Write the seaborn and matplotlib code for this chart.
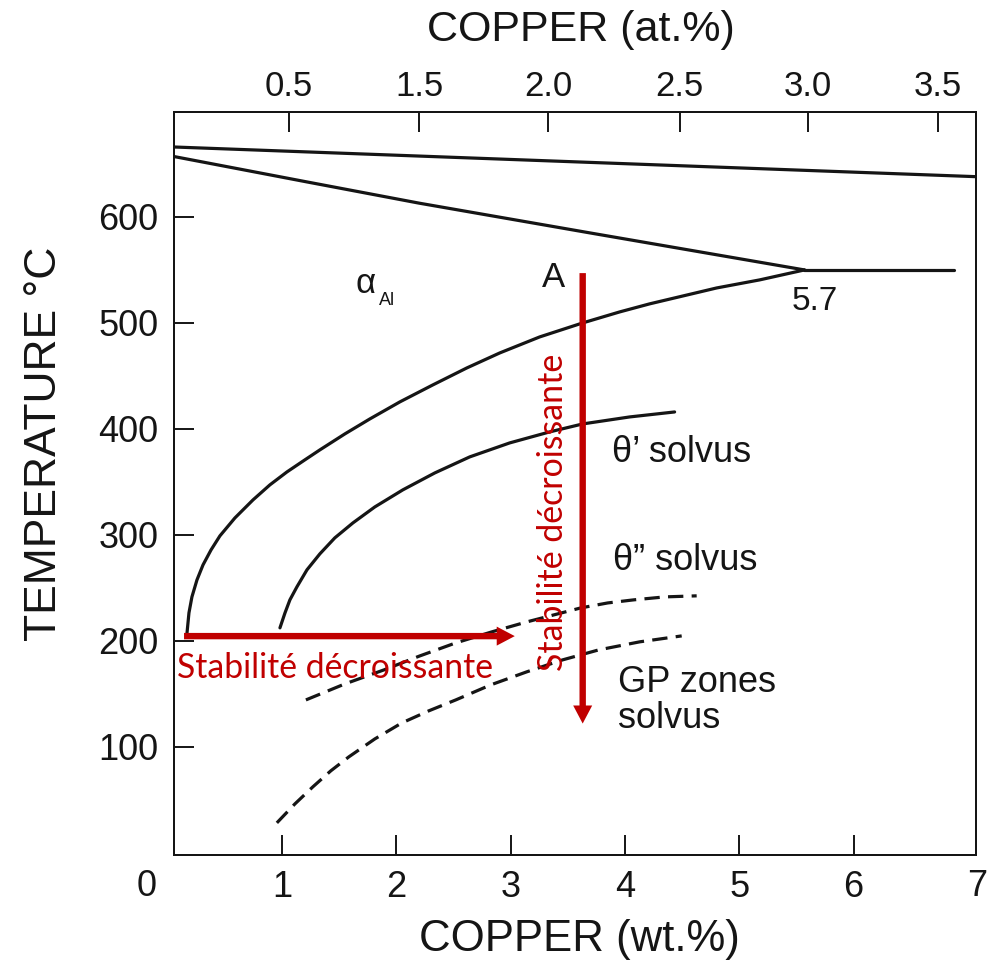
import matplotlib
matplotlib.use("Agg")
import matplotlib.pyplot as plt
import seaborn as sns

# ---- Al-Cu phase boundaries (Cu in wt.%, temperature in °C) ----
liquidus_wt = [0.055, 7.07]
liquidus_t = [666, 638]

solidus_wt = [0.055, 1.22, 2.20, 3.69, 5.57]
solidus_t = [657, 633, 613, 585, 550]

eutectic_wt = [5.57, 6.88]
eutectic_t = [550, 550]

alpha_solvus_wt = [0.169, 0.186, 0.212, 0.256, 0.309, 0.379, 0.457, 0.588,
                   0.746, 0.894, 1.043, 1.200, 1.331, 1.550, 1.768, 2.031,
                   2.319, 2.616, 2.905, 3.254, 3.630, 3.954, 4.216, 4.802,
                   5.178, 5.570]
alpha_solvus_t = [207.5, 226.4, 241.5, 257.5, 271.7, 285.8, 299.1, 316.0,
                  333.0, 347.2, 359.4, 370.8, 380.2, 395.3, 409.4, 425.5,
                  441.5, 457.5, 471.7, 486.8, 500.0, 510.4, 518.0, 533.0,
                  540.6, 550.0]

theta_p_wt = [0.982, 1.026, 1.069, 1.130, 1.218, 1.331, 1.462, 1.620, 1.812,
              2.057, 2.337, 2.642, 2.992, 3.342, 3.630, 4.041, 4.434]
theta_p_t = [212.3, 226.4, 238.7, 250.9, 267.0, 282.1, 297.2, 311.3, 326.4,
             342.5, 358.5, 373.6, 386.8, 397.2, 404.7, 411.3, 416.0]

theta_pp_wt = [1.209, 1.550, 1.891, 2.205, 2.520, 2.835, 3.141, 3.377, 3.613,
               3.849, 4.076, 4.347, 4.627]
theta_pp_t = [144.3, 159.4, 172.6, 185.8, 198.1, 208.5, 217.9, 224.5, 231.1,
              235.8, 238.7, 241.5, 242.5]

gp_wt = [0.955, 1.113, 1.270, 1.427, 1.585, 1.812, 2.048, 2.284, 2.520,
         2.826, 3.141, 3.455, 3.770, 4.129, 4.496]
gp_t = [28.3, 46.2, 62.3, 77.4, 90.6, 107.5, 122.6, 134.0, 144.3, 158.5,
        170.8, 182.1, 191.5, 199.1, 204.7]

# ---- axes ticks ----
wt_ticks = [1, 2, 3, 4, 5, 6]
temp_ticks = [100, 200, 300, 400, 500, 600]
at_tick_wt = [1.06, 2.20, 3.33, 4.48, 5.60, 6.74]
at_tick_labels = ["0.5", "1.5", "2.0", "2.5", "3.0", "3.5"]

# ---- arrows: (start wt, start T) -> (end wt, end T) ----
arrow_h = ((0.143, 204.5), (3.036, 204.5))
arrow_v = ((3.63, 547), (3.63, 122))

sns.set_style("ticks")
plt.rcParams["font.family"] = ["Liberation Sans", "DejaVu Sans"]

RED = "#C00000"
INK = "#151515"
TICK_FS = 26

fig = plt.figure(figsize=(9.97, 9.64), dpi=100)
ax = fig.add_axes([0.1745, 0.1131, 0.8044, 0.7707])

solid_kw = dict(color=INK, linewidth=2.3, estimator=None, sort=False, ax=ax)
sns.lineplot(x=liquidus_wt, y=liquidus_t, **solid_kw)
sns.lineplot(x=solidus_wt, y=solidus_t, **solid_kw)
sns.lineplot(x=eutectic_wt, y=eutectic_t, **solid_kw)
sns.lineplot(x=alpha_solvus_wt, y=alpha_solvus_t, **solid_kw)
sns.lineplot(x=theta_p_wt, y=theta_p_t, **solid_kw)
for xs, ys in ((theta_pp_wt, theta_pp_t), (gp_wt, gp_t)):
    sns.lineplot(x=xs, y=ys, **solid_kw)
    ax.lines[-1].set_dashes((4.8, 2.6))

ax.set_xlim(0.055, 7.07)
ax.set_ylim(-2, 699)

for sp in ax.spines.values():
    sp.set_linewidth(1.4)
    sp.set_color(INK)

ax.set_xticks(wt_ticks)
ax.set_xticklabels([str(v) for v in wt_ticks])
ax.set_yticks(temp_ticks)
ax.set_yticklabels([str(v) for v in temp_ticks])
ax.tick_params(direction="in", length=14.5, width=1.4, colors=INK,
               labelsize=TICK_FS)
ax.tick_params(axis="x", pad=10.5)
ax.tick_params(axis="y", pad=11)

# corner labels of the wt.% scale
xlab_y = -0.043
ax.text(-0.18, xlab_y, "0", transform=ax.get_xaxis_transform(),
        ha="center", va="center", fontsize=TICK_FS, color=INK)
ax.text(7.08, xlab_y, "7", transform=ax.get_xaxis_transform(),
        ha="center", va="center", fontsize=TICK_FS, color=INK)

# at.% scale along the top
top = ax.twiny()
top.set_xlim(ax.get_xlim())
top.set_xticks(at_tick_wt)
top.set_xticklabels(at_tick_labels)
top.tick_params(direction="in", length=14.5, width=1.4, colors=INK,
                labelsize=TICK_FS - 1, pad=6.5)
for sp in top.spines.values():
    sp.set_linewidth(1.4)
    sp.set_color(INK)

# axis titles
fig.text(581 / 997, 1 - 30 / 964, "COPPER (at.%)", ha="center", va="center",
         fontsize=31, color=INK)
fig.text(579 / 997, 1 - 940 / 964, "COPPER (wt.%)", ha="center", va="center",
         fontsize=31.5, color=INK)
fig.text(45 / 997, 1 - 444 / 964, "TEMPERATURE °C", ha="center", va="center",
         rotation=90, fontsize=32, color=INK)

# region and curve labels
ax.text(1.733, 528, "α", fontsize=25, color=INK, ha="center", va="baseline")
ax.text(1.92, 517, "Al", fontsize=13, color=INK, ha="center", va="baseline")
ax.text(3.377, 534, "A", fontsize=25, color=INK, ha="center", va="baseline")
ax.text(5.66, 512, "5.7", fontsize=24, color=INK, ha="center", va="baseline")
ax.text(3.886, 369, "θ’ solvus", fontsize=26, color=INK, ha="left",
        va="baseline")
ax.text(3.895, 267, "θ” solvus", fontsize=26, color=INK, ha="left",
        va="baseline")
ax.text(3.94, 152, "GP zones", fontsize=26, color=INK, ha="left",
        va="baseline")
ax.text(3.94, 118, "solvus", fontsize=26, color=INK, ha="left",
        va="baseline")

# red arrows
arrow_kw = dict(arrowprops=dict(width=4.6, headwidth=13.7, headlength=13,
                                shrink=0, color=RED, lw=0))
ax.annotate("", xy=arrow_h[1], xytext=arrow_h[0], **arrow_kw)
ax.annotate("", xy=arrow_v[1], xytext=arrow_v[0], **arrow_kw)

ax.text(0.083, 165, "Stabilité décroissante", fontsize=24.3, color=RED,
        family=["Lato", "DejaVu Sans"], ha="left", va="baseline")
ax.text(3.455, 321, "Stabilité décroissante", fontsize=24.4, color=RED,
        family=["Lato", "DejaVu Sans"], ha="center", va="baseline",
        rotation=90, rotation_mode="anchor")

fig.savefig("out.png", dpi=100)
